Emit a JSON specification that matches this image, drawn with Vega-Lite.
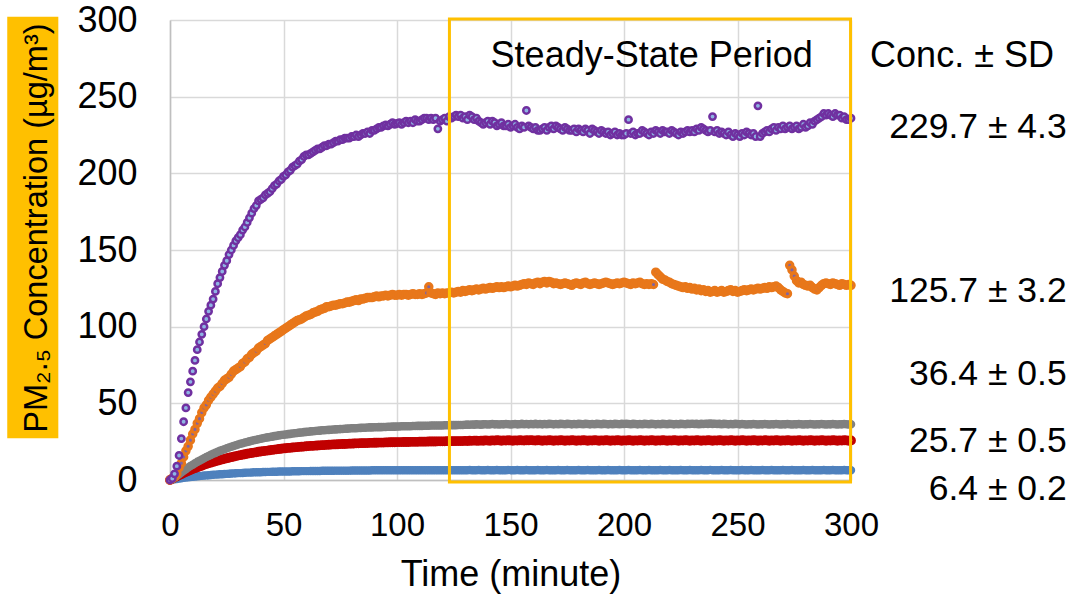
{
"$schema": "https://vega.github.io/schema/vega-lite/v6.json",
"autosize": {"type": "none"},
"width": 681, "height": 460,
"padding": {"left": 170, "top": 20, "right": 223, "bottom": 120},
"background": "white",
"config": {
  "font": "Liberation Sans",
  "view": {"stroke": null},
  "axis": {"grid": true, "gridColor": "#D9D9D9", "gridWidth": 1.5, "domainColor": "#BFBFBF", "domainWidth": 1.5, "ticks": false, "tickSize": 0, "labelColor": "black", "titleColor": "black", "labelFont": "Liberation Sans", "titleFont": "Liberation Sans", "titleFontWeight": "normal", "labelFlush": false},
  "axisX": {"labelFontSize": 33, "labelPadding": 29, "titleFontSize": 36, "titlePadding": 15},
  "axisY": {"labelFontSize": 36, "labelPadding": 33}
},
"datasets": {
"d": [
{"t":0,"p":0,"o":0,"g":0,"r":0,"b":0},
{"t":1,"p":1,"o":1,"g":0.5,"r":0.8,"b":0.3},
{"t":2,"p":4,"o":2,"g":1.5,"r":1.6,"b":0.5},
{"t":3,"p":9,"o":4,"g":2.6,"r":2.4,"b":0.7},
{"t":4,"p":16,"o":8,"g":3.8,"r":3.1,"b":1.0},
{"t":5,"p":27,"o":11,"g":4.9,"r":3.8,"b":1.2},
{"t":6,"p":38,"o":15,"g":6.0,"r":4.5,"b":1.4},
{"t":7,"p":47,"o":19,"g":7.1,"r":5.2,"b":1.6},
{"t":8,"p":57,"o":22,"g":8.1,"r":5.8,"b":1.8},
{"t":9,"p":64,"o":26,"g":9.1,"r":6.5,"b":2.0},
{"t":10,"p":71,"o":30,"g":10.0,"r":7.1,"b":2.1},
{"t":11,"p":78,"o":33,"g":10.9,"r":7.7,"b":2.3},
{"t":12,"p":85,"o":37,"g":11.8,"r":8.3,"b":2.5},
{"t":13,"p":90,"o":40,"g":12.6,"r":8.8,"b":2.6},
{"t":14,"p":95,"o":44,"g":13.4,"r":9.3,"b":2.7},
{"t":15,"p":100,"o":47,"g":14.2,"r":9.9,"b":2.9},
{"t":16,"p":105,"o":49,"g":15.0,"r":10.4,"b":3.0},
{"t":17,"p":110,"o":52,"g":15.7,"r":10.9,"b":3.1},
{"t":18,"p":114,"o":54,"g":16.4,"r":11.3,"b":3.3},
{"t":19,"p":118,"o":56,"g":17.1,"r":11.8,"b":3.4},
{"t":20,"p":123,"o":58,"g":17.7,"r":12.2,"b":3.5},
{"t":21,"p":128,"o":60,"g":18.4,"r":12.6,"b":3.6},
{"t":22,"p":132,"o":61,"g":19.0,"r":13.0,"b":3.7},
{"t":23,"p":136,"o":63,"g":19.6,"r":13.4,"b":3.8},
{"t":24,"p":140,"o":65,"g":20.1,"r":13.8,"b":3.9},
{"t":25,"p":143,"o":66,"g":20.7,"r":14.2,"b":4.0},
{"t":26,"p":147,"o":67,"g":21.2,"r":14.5,"b":4.1},
{"t":27,"p":150,"o":69,"g":21.7,"r":14.9,"b":4.2},
{"t":28,"p":153,"o":71,"g":22.2,"r":15.2,"b":4.3},
{"t":29,"p":156,"o":72,"g":22.7,"r":15.6,"b":4.4},
{"t":30,"p":158,"o":73,"g":23.1,"r":15.9,"b":4.5},
{"t":31,"p":160,"o":74,"g":23.6,"r":16.2,"b":4.5},
{"t":32,"p":163,"o":76,"g":24.0,"r":16.5,"b":4.6},
{"t":33,"p":165,"o":77,"g":24.4,"r":16.8,"b":4.7},
{"t":34,"p":168,"o":79,"g":24.8,"r":17.1,"b":4.8},
{"t":35,"p":171,"o":80,"g":25.2,"r":17.4,"b":4.8},
{"t":36,"p":174,"o":82,"g":25.6,"r":17.6,"b":4.9},
{"t":37,"p":177,"o":83,"g":25.9,"r":17.9,"b":5.0},
{"t":38,"p":179,"o":84,"g":26.3,"r":18.1,"b":5.0},
{"t":39,"p":182,"o":86,"g":26.6,"r":18.4,"b":5.1},
{"t":40,"p":183,"o":87,"g":26.9,"r":18.6,"b":5.1},
{"t":41,"p":184,"o":88,"g":27.2,"r":18.8,"b":5.2},
{"t":42,"p":186,"o":89,"g":27.5,"r":19.0,"b":5.2},
{"t":43,"p":187,"o":91,"g":27.8,"r":19.2,"b":5.3},
{"t":44,"p":188,"o":92,"g":28.1,"r":19.4,"b":5.3},
{"t":45,"p":190,"o":93,"g":28.3,"r":19.6,"b":5.4},
{"t":46,"p":192,"o":94,"g":28.6,"r":19.8,"b":5.4},
{"t":47,"p":193,"o":95,"g":28.8,"r":20.0,"b":5.4},
{"t":48,"p":195,"o":96,"g":29.1,"r":20.2,"b":5.5},
{"t":49,"p":196,"o":97,"g":29.3,"r":20.4,"b":5.5},
{"t":50,"p":198,"o":98,"g":29.5,"r":20.6,"b":5.5},
{"t":51,"p":199,"o":99,"g":29.7,"r":20.7,"b":5.6},
{"t":52,"p":201,"o":100,"g":29.9,"r":20.9,"b":5.6},
{"t":53,"p":202,"o":101,"g":30.1,"r":21.0,"b":5.6},
{"t":54,"p":204,"o":102,"g":30.3,"r":21.2,"b":5.7},
{"t":55,"p":205,"o":103,"g":30.5,"r":21.3,"b":5.7},
{"t":56,"p":206,"o":104,"g":30.7,"r":21.4,"b":5.7},
{"t":57,"p":208,"o":104.5,"g":30.9,"r":21.6,"b":5.7},
{"t":58,"p":209,"o":105,"g":31.0,"r":21.7,"b":5.8},
{"t":59,"p":211,"o":106,"g":31.2,"r":21.8,"b":5.8},
{"t":60,"p":212,"o":107,"g":31.4,"r":22.0,"b":5.8},
{"t":61,"p":212,"o":107.5,"g":31.5,"r":22.1,"b":5.8},
{"t":62,"p":213,"o":108,"g":31.7,"r":22.2,"b":5.9},
{"t":63,"p":214,"o":109,"g":31.8,"r":22.3,"b":5.9},
{"t":64,"p":215,"o":109.5,"g":32.0,"r":22.4,"b":5.9},
{"t":65,"p":216,"o":110,"g":32.1,"r":22.5,"b":5.9},
{"t":66,"p":216,"o":111,"g":32.2,"r":22.6,"b":5.9},
{"t":67,"p":217,"o":111.5,"g":32.4,"r":22.7,"b":6.0},
{"t":68,"p":218,"o":112,"g":32.5,"r":22.8,"b":6.0},
{"t":69,"p":218,"o":113,"g":32.6,"r":22.9,"b":6.0},
{"t":70,"p":219,"o":113,"g":32.7,"r":23.0,"b":6.0},
{"t":71,"p":219,"o":113.5,"g":32.8,"r":23.1,"b":6.0},
{"t":72,"p":220,"o":114,"g":32.9,"r":23.2,"b":6.0},
{"t":73,"p":221,"o":114,"g":33.0,"r":23.2,"b":6.1},
{"t":74,"p":221,"o":114.5,"g":33.1,"r":23.3,"b":6.1},
{"t":75,"p":222,"o":115,"g":33.2,"r":23.4,"b":6.1},
{"t":76,"p":222,"o":115,"g":33.3,"r":23.5,"b":6.1},
{"t":77,"p":223,"o":115.5,"g":33.4,"r":23.5,"b":6.1},
{"t":78,"p":223,"o":116,"g":33.5,"r":23.6,"b":6.1},
{"t":79,"p":223,"o":116,"g":33.6,"r":23.7,"b":6.1},
{"t":80,"p":224,"o":116.5,"g":33.7,"r":23.7,"b":6.2},
{"t":81,"p":224,"o":117,"g":33.8,"r":23.8,"b":6.2},
{"t":82,"p":225,"o":117.5,"g":33.8,"r":23.9,"b":6.2},
{"t":83,"p":224,"o":117,"g":33.9,"r":23.9,"b":6.2},
{"t":84,"p":225,"o":118,"g":34.0,"r":24.0,"b":6.2},
{"t":85,"p":226,"o":118,"g":34.1,"r":24.0,"b":6.2},
{"t":86,"p":226,"o":118.5,"g":34.1,"r":24.1,"b":6.2},
{"t":87,"p":227,"o":119,"g":34.2,"r":24.1,"b":6.2},
{"t":88,"p":226,"o":119,"g":34.3,"r":24.2,"b":6.2},
{"t":89,"p":228,"o":119,"g":34.3,"r":24.2,"b":6.3},
{"t":90,"p":228,"o":119.5,"g":34.4,"r":24.3,"b":6.3},
{"t":91,"p":229,"o":120,"g":34.4,"r":24.3,"b":6.3},
{"t":92,"p":230,"o":119.5,"g":34.5,"r":24.4,"b":6.3},
{"t":93,"p":230,"o":120,"g":34.5,"r":24.4,"b":6.3},
{"t":94,"p":231,"o":120,"g":34.6,"r":24.4,"b":6.3},
{"t":95,"p":231.5,"o":120.5,"g":34.6,"r":24.5,"b":6.3},
{"t":96,"p":231,"o":120,"g":34.7,"r":24.5,"b":6.3},
{"t":97,"p":232,"o":120.5,"g":34.7,"r":24.6,"b":6.3},
{"t":98,"p":233,"o":121,"g":34.8,"r":24.6,"b":6.3},
{"t":99,"p":232,"o":120.5,"g":34.8,"r":24.6,"b":6.3},
{"t":100,"p":232.5,"o":120.5,"g":34.9,"r":24.7,"b":6.3},
{"t":101,"p":233,"o":121,"g":34.9,"r":24.7,"b":6.3},
{"t":102,"p":232,"o":120.5,"g":35.0,"r":24.7,"b":6.3},
{"t":103,"p":233,"o":121,"g":35.0,"r":24.8,"b":6.3},
{"t":104,"p":234,"o":121,"g":35.1,"r":24.8,"b":6.4},
{"t":105,"p":233,"o":120.5,"g":35.1,"r":24.8,"b":6.4},
{"t":106,"p":234,"o":121,"g":35.1,"r":24.9,"b":6.4},
{"t":107,"p":233,"o":121.5,"g":35.2,"r":24.9,"b":6.4},
{"t":108,"p":235,"o":121,"g":35.2,"r":24.9,"b":6.4},
{"t":109,"p":234,"o":121,"g":35.3,"r":24.9,"b":6.4},
{"t":110,"p":234,"o":121.5,"g":35.3,"r":25.0,"b":6.4},
{"t":111,"p":235,"o":121,"g":35.3,"r":25.0,"b":6.4},
{"t":112,"p":236,"o":121.5,"g":35.4,"r":25.0,"b":6.4},
{"t":113,"p":236,"o":122,"g":35.4,"r":25.0,"b":6.4},
{"t":114,"p":235,"o":126,"g":35.4,"r":25.1,"b":6.4},
{"t":115,"p":236,"o":122,"g":35.5,"r":25.1,"b":6.4},
{"t":116,"p":235,"o":121.5,"g":35.5,"r":25.1,"b":6.4},
{"t":117,"p":236,"o":121,"g":35.5,"r":25.1,"b":6.4},
{"t":118,"p":229,"o":122,"g":35.6,"r":25.2,"b":6.4},
{"t":119,"p":234,"o":121.5,"g":35.6,"r":25.2,"b":6.4},
{"t":120,"p":235,"o":122,"g":35.6,"r":25.2,"b":6.4},
{"t":121,"p":236,"o":121.5,"g":35.7,"r":25.2,"b":6.4},
{"t":122,"p":234,"o":122,"g":35.7,"r":25.3,"b":6.4},
{"t":123,"p":237,"o":122,"g":35.7,"r":25.3,"b":6.4},
{"t":124,"p":236,"o":122.5,"g":35.8,"r":25.3,"b":6.4},
{"t":125,"p":237,"o":122,"g":35.8,"r":25.3,"b":6.4},
{"t":126,"p":238,"o":122.5,"g":35.8,"r":25.4,"b":6.4},
{"t":127,"p":237,"o":123,"g":35.9,"r":25.4,"b":6.4},
{"t":128,"p":238,"o":122.5,"g":35.9,"r":25.4,"b":6.4},
{"t":129,"p":236,"o":123.5,"g":35.9,"r":25.4,"b":6.4},
{"t":130,"p":237,"o":123,"g":36.0,"r":25.5,"b":6.3},
{"t":131,"p":235,"o":123.5,"g":36.1,"r":25.4,"b":6.4},
{"t":132,"p":238,"o":124,"g":36.0,"r":25.6,"b":6.5},
{"t":133,"p":237,"o":123.5,"g":36.2,"r":25.5,"b":6.4},
{"t":134,"p":235,"o":124,"g":36.1,"r":25.7,"b":6.3},
{"t":135,"p":236,"o":124.5,"g":36.3,"r":25.6,"b":6.4},
{"t":136,"p":234,"o":124,"g":36.2,"r":25.5,"b":6.5},
{"t":137,"p":233,"o":124.5,"g":36.1,"r":25.7,"b":6.4},
{"t":138,"p":232,"o":125,"g":36.3,"r":25.6,"b":6.3},
{"t":139,"p":233,"o":124.5,"g":36.4,"r":25.8,"b":6.4},
{"t":140,"p":234,"o":125,"g":36.2,"r":25.7,"b":6.5},
{"t":141,"p":232,"o":125.5,"g":36.3,"r":25.6,"b":6.4},
{"t":142,"p":234,"o":125,"g":36.5,"r":25.8,"b":6.3},
{"t":143,"p":233,"o":125.5,"g":36.3,"r":25.7,"b":6.4},
{"t":144,"p":231,"o":126,"g":36.4,"r":25.9,"b":6.5},
{"t":145,"p":232,"o":125.5,"g":36.2,"r":25.8,"b":6.4},
{"t":146,"p":233,"o":126,"g":36.4,"r":25.6,"b":6.3},
{"t":147,"p":231,"o":125.5,"g":36.3,"r":25.8,"b":6.4},
{"t":148,"p":231,"o":126,"g":36.5,"r":25.7,"b":6.4},
{"t":149,"p":232,"o":126.5,"g":36.4,"r":25.9,"b":6.5},
{"t":150,"p":230,"o":126,"g":36.2,"r":25.8,"b":6.4},
{"t":151,"p":231,"o":126.5,"g":36.4,"r":25.6,"b":6.3},
{"t":152,"p":232,"o":127,"g":36.5,"r":25.8,"b":6.4},
{"t":153,"p":230,"o":126.5,"g":36.3,"r":25.7,"b":6.5},
{"t":154,"p":229,"o":127,"g":36.4,"r":25.9,"b":6.4},
{"t":155,"p":231,"o":127.5,"g":36.6,"r":25.8,"b":6.3},
{"t":156,"p":230,"o":128,"g":36.4,"r":25.7,"b":6.4},
{"t":157,"p":241,"o":127.5,"g":36.5,"r":25.9,"b":6.5},
{"t":158,"p":231,"o":128.5,"g":36.3,"r":25.8,"b":6.4},
{"t":159,"p":230,"o":128,"g":36.5,"r":26.0,"b":6.4},
{"t":160,"p":229,"o":127.5,"g":36.4,"r":25.8,"b":6.3},
{"t":161,"p":230,"o":128.5,"g":36.6,"r":25.7,"b":6.4},
{"t":162,"p":228,"o":129,"g":36.4,"r":25.9,"b":6.5},
{"t":163,"p":228,"o":128,"g":36.5,"r":25.8,"b":6.4},
{"t":164,"p":229,"o":129,"g":36.3,"r":25.6,"b":6.3},
{"t":165,"p":230,"o":129.5,"g":36.5,"r":25.8,"b":6.4},
{"t":166,"p":228,"o":128.5,"g":36.4,"r":25.7,"b":6.5},
{"t":167,"p":230,"o":129.5,"g":36.6,"r":25.9,"b":6.4},
{"t":168,"p":231,"o":129,"g":36.5,"r":25.8,"b":6.4},
{"t":169,"p":229,"o":128,"g":36.3,"r":25.6,"b":6.3},
{"t":170,"p":231,"o":128.5,"g":36.5,"r":25.8,"b":6.4},
{"t":171,"p":230,"o":128,"g":36.4,"r":25.7,"b":6.5},
{"t":172,"p":229,"o":127.5,"g":36.6,"r":25.9,"b":6.4},
{"t":173,"p":228,"o":128,"g":36.5,"r":25.8,"b":6.3},
{"t":174,"p":230,"o":128.5,"g":36.4,"r":25.6,"b":6.4},
{"t":175,"p":229,"o":128,"g":36.6,"r":25.8,"b":6.5},
{"t":176,"p":228,"o":127.5,"g":36.5,"r":25.7,"b":6.4},
{"t":177,"p":228,"o":127,"g":36.3,"r":25.9,"b":6.4},
{"t":178,"p":229,"o":128,"g":36.5,"r":25.8,"b":6.3},
{"t":179,"p":227,"o":128.5,"g":36.4,"r":25.6,"b":6.4},
{"t":180,"p":229,"o":128,"g":36.6,"r":25.8,"b":6.5},
{"t":181,"p":228,"o":127.5,"g":36.5,"r":25.7,"b":6.4},
{"t":182,"p":227,"o":128.5,"g":36.4,"r":25.9,"b":6.3},
{"t":183,"p":229,"o":129,"g":36.6,"r":25.8,"b":6.4},
{"t":184,"p":228,"o":128,"g":36.5,"r":25.6,"b":6.5},
{"t":185,"p":226,"o":127.5,"g":36.3,"r":25.8,"b":6.4},
{"t":186,"p":229,"o":128,"g":36.5,"r":25.7,"b":6.4},
{"t":187,"p":228,"o":128.5,"g":36.4,"r":25.9,"b":6.3},
{"t":188,"p":227,"o":128,"g":36.6,"r":25.8,"b":6.4},
{"t":189,"p":226,"o":127.5,"g":36.5,"r":25.6,"b":6.5},
{"t":190,"p":228,"o":128,"g":36.4,"r":25.8,"b":6.4},
{"t":191,"p":227,"o":128.5,"g":36.6,"r":25.7,"b":6.3},
{"t":192,"p":226,"o":129,"g":36.5,"r":25.9,"b":6.4},
{"t":193,"p":227,"o":128.5,"g":36.3,"r":25.8,"b":6.5},
{"t":194,"p":225,"o":128,"g":36.5,"r":25.6,"b":6.4},
{"t":195,"p":226,"o":127.5,"g":36.4,"r":25.8,"b":6.4},
{"t":196,"p":227,"o":128,"g":36.6,"r":25.7,"b":6.3},
{"t":197,"p":225,"o":128.5,"g":36.5,"r":25.9,"b":6.4},
{"t":198,"p":226,"o":128,"g":36.4,"r":25.8,"b":6.5},
{"t":199,"p":225,"o":128.5,"g":36.6,"r":25.6,"b":6.4},
{"t":200,"p":225,"o":129,"g":36.5,"r":25.8,"b":6.3},
{"t":201,"p":226,"o":128.5,"g":36.7,"r":25.7,"b":6.4},
{"t":202,"p":235,"o":128,"g":36.5,"r":25.9,"b":6.5},
{"t":203,"p":226,"o":127.5,"g":36.4,"r":25.8,"b":6.4},
{"t":204,"p":227,"o":128.5,"g":36.6,"r":25.6,"b":6.4},
{"t":205,"p":225,"o":128,"g":36.5,"r":25.8,"b":6.3},
{"t":206,"p":226,"o":128.5,"g":36.3,"r":25.7,"b":6.4},
{"t":207,"p":226,"o":129,"g":36.5,"r":25.9,"b":6.5},
{"t":208,"p":228,"o":128,"g":36.4,"r":25.8,"b":6.4},
{"t":209,"p":227,"o":127.5,"g":36.6,"r":25.6,"b":6.3},
{"t":210,"p":226,"o":128,"g":36.5,"r":25.8,"b":6.4},
{"t":211,"p":225,"o":127.5,"g":36.4,"r":25.7,"b":6.5},
{"t":212,"p":227,"o":128,"g":36.6,"r":25.9,"b":6.4},
{"t":213,"p":226,"o":127.5,"g":36.5,"r":25.8,"b":6.4},
{"t":214,"p":228,"o":135.5,"g":36.3,"r":25.6,"b":6.3},
{"t":215,"p":227,"o":134,"g":36.5,"r":25.8,"b":6.4},
{"t":216,"p":226,"o":132.5,"g":36.4,"r":25.7,"b":6.5},
{"t":217,"p":228,"o":131,"g":36.6,"r":25.9,"b":6.4},
{"t":218,"p":227,"o":130.5,"g":36.5,"r":25.8,"b":6.3},
{"t":219,"p":227,"o":129.5,"g":36.4,"r":25.6,"b":6.4},
{"t":220,"p":226,"o":129,"g":36.6,"r":25.8,"b":6.5},
{"t":221,"p":228,"o":128,"g":36.5,"r":25.7,"b":6.4},
{"t":222,"p":227,"o":127.5,"g":36.3,"r":25.9,"b":6.4},
{"t":223,"p":226,"o":127,"g":36.5,"r":25.8,"b":6.3},
{"t":224,"p":225,"o":126.5,"g":36.4,"r":25.6,"b":6.4},
{"t":225,"p":227,"o":126,"g":36.6,"r":25.8,"b":6.5},
{"t":226,"p":226,"o":125.5,"g":36.5,"r":25.7,"b":6.4},
{"t":227,"p":227,"o":126,"g":36.4,"r":25.9,"b":6.3},
{"t":228,"p":228,"o":125,"g":36.6,"r":25.8,"b":6.4},
{"t":229,"p":227,"o":125.5,"g":36.5,"r":25.6,"b":6.5},
{"t":230,"p":228,"o":124.5,"g":36.7,"r":25.8,"b":6.4},
{"t":231,"p":227,"o":125,"g":36.5,"r":25.7,"b":6.4},
{"t":232,"p":229,"o":124,"g":36.6,"r":25.9,"b":6.3},
{"t":233,"p":228,"o":124.5,"g":36.4,"r":25.8,"b":6.4},
{"t":234,"p":230,"o":123.5,"g":36.6,"r":25.6,"b":6.5},
{"t":235,"p":229,"o":124,"g":36.5,"r":25.8,"b":6.4},
{"t":236,"p":228,"o":123,"g":36.7,"r":25.7,"b":6.3},
{"t":237,"p":227,"o":123.5,"g":36.6,"r":25.9,"b":6.4},
{"t":238,"p":228,"o":122.5,"g":36.8,"r":25.8,"b":6.6},
{"t":239,"p":237,"o":123,"g":36.6,"r":25.6,"b":6.4},
{"t":240,"p":227,"o":123.5,"g":36.7,"r":25.8,"b":6.4},
{"t":241,"p":228,"o":122.5,"g":36.5,"r":25.7,"b":6.3},
{"t":242,"p":226,"o":123,"g":36.6,"r":25.9,"b":6.4},
{"t":243,"p":227,"o":123.5,"g":36.4,"r":25.8,"b":6.5},
{"t":244,"p":226,"o":122.5,"g":36.6,"r":25.6,"b":6.4},
{"t":245,"p":225,"o":123,"g":36.5,"r":25.8,"b":6.3},
{"t":246,"p":227,"o":123.5,"g":36.3,"r":25.7,"b":6.4},
{"t":247,"p":225,"o":124,"g":36.5,"r":25.9,"b":6.5},
{"t":248,"p":224,"o":123,"g":36.4,"r":25.8,"b":6.4},
{"t":249,"p":226,"o":123.5,"g":36.6,"r":25.6,"b":6.4},
{"t":250,"p":225,"o":122.5,"g":36.5,"r":25.8,"b":6.3},
{"t":251,"p":224,"o":123,"g":36.3,"r":25.7,"b":6.4},
{"t":252,"p":226,"o":123.5,"g":36.5,"r":25.9,"b":6.5},
{"t":253,"p":225,"o":124,"g":36.4,"r":25.8,"b":6.4},
{"t":254,"p":227,"o":123.5,"g":36.2,"r":25.6,"b":6.3},
{"t":255,"p":226,"o":124,"g":36.4,"r":25.8,"b":6.4},
{"t":256,"p":225,"o":124.5,"g":36.3,"r":25.7,"b":6.5},
{"t":257,"p":226,"o":124,"g":36.5,"r":25.9,"b":6.4},
{"t":258,"p":224,"o":124.5,"g":36.4,"r":25.8,"b":6.4},
{"t":259,"p":244,"o":125,"g":36.2,"r":25.6,"b":6.3},
{"t":260,"p":224,"o":124.5,"g":36.4,"r":25.8,"b":6.4},
{"t":261,"p":226,"o":125,"g":36.3,"r":25.7,"b":6.5},
{"t":262,"p":227,"o":125.5,"g":36.5,"r":25.9,"b":6.4},
{"t":263,"p":228,"o":125,"g":36.4,"r":25.8,"b":6.3},
{"t":264,"p":227,"o":126,"g":36.2,"r":25.6,"b":6.4},
{"t":265,"p":229,"o":125.5,"g":36.4,"r":25.8,"b":6.5},
{"t":266,"p":230,"o":126,"g":36.3,"r":25.7,"b":6.4},
{"t":267,"p":228,"o":126.5,"g":36.5,"r":25.9,"b":6.4},
{"t":268,"p":230,"o":125.5,"g":36.4,"r":25.8,"b":6.3},
{"t":269,"p":229,"o":124,"g":36.2,"r":25.6,"b":6.4},
{"t":270,"p":231,"o":123,"g":36.4,"r":25.8,"b":6.5},
{"t":271,"p":229,"o":122,"g":36.3,"r":25.7,"b":6.4},
{"t":272,"p":230,"o":121.5,"g":36.5,"r":25.9,"b":6.3},
{"t":273,"p":231,"o":140,"g":36.4,"r":25.8,"b":6.4},
{"t":274,"p":229,"o":137,"g":36.2,"r":25.6,"b":6.5},
{"t":275,"p":230,"o":133,"g":36.4,"r":25.8,"b":6.4},
{"t":276,"p":231,"o":130,"g":36.3,"r":25.7,"b":6.4},
{"t":277,"p":229,"o":128.5,"g":36.5,"r":25.9,"b":6.3},
{"t":278,"p":230,"o":129,"g":36.4,"r":25.8,"b":6.4},
{"t":279,"p":232,"o":127.5,"g":36.2,"r":25.6,"b":6.5},
{"t":280,"p":230,"o":127,"g":36.4,"r":25.8,"b":6.4},
{"t":281,"p":231,"o":126.5,"g":36.3,"r":25.7,"b":6.3},
{"t":282,"p":233,"o":127,"g":36.5,"r":25.9,"b":6.4},
{"t":283,"p":232,"o":125.5,"g":36.4,"r":25.8,"b":6.5},
{"t":284,"p":234,"o":124.5,"g":36.2,"r":25.6,"b":6.4},
{"t":285,"p":235,"o":124,"g":36.4,"r":25.8,"b":6.4},
{"t":286,"p":236,"o":125.5,"g":36.3,"r":25.7,"b":6.3},
{"t":287,"p":237,"o":127,"g":36.5,"r":25.9,"b":6.4},
{"t":288,"p":239,"o":128,"g":36.4,"r":25.8,"b":6.5},
{"t":289,"p":238,"o":128.5,"g":36.2,"r":25.6,"b":6.4},
{"t":290,"p":239,"o":128,"g":36.4,"r":25.8,"b":6.3},
{"t":291,"p":238,"o":127.5,"g":36.3,"r":25.7,"b":6.4},
{"t":292,"p":237,"o":128.5,"g":36.5,"r":25.9,"b":6.5},
{"t":293,"p":239,"o":128,"g":36.4,"r":25.8,"b":6.4},
{"t":294,"p":238,"o":127.5,"g":36.2,"r":25.6,"b":6.4},
{"t":295,"p":238,"o":127,"g":36.4,"r":25.8,"b":6.3},
{"t":296,"p":236,"o":128,"g":36.3,"r":25.7,"b":6.4},
{"t":297,"p":237,"o":127.5,"g":36.5,"r":25.9,"b":6.5},
{"t":298,"p":235,"o":127,"g":36.4,"r":25.8,"b":6.4},
{"t":299,"p":235,"o":127.5,"g":36.2,"r":25.6,"b":6.3},
{"t":300,"p":236,"o":127,"g":36.4,"r":25.8,"b":6.4}
],
"labels": [
{"label":"229.7 ± 4.3","y":222.9},
{"label":"125.7 ± 3.2","y":116.3},
{"label":"36.4 ± 0.5","y":62.0},
{"label":"25.7 ± 0.5","y":18.5},
{"label":"6.4 ± 0.2","y":-13.0}
],
"one": [{"n": 1}]
},
"data": {"name": "d"},
"layer": [
{
  "mark": {"type": "point", "filled": true, "fill": "#4F81BD", "stroke": "#4F81BD", "strokeWidth": 1.5, "size": 48, "opacity": 1},
  "encoding": {
    "x": {"field": "t", "type": "quantitative", "scale": {"domain": [0, 300]}, "axis": {"title": "Time (minute)", "values": [0, 50, 100, 150, 200, 250, 300]}},
    "y": {"field": "b", "type": "quantitative", "scale": {"domain": [0, 300]}, "axis": {"title": null, "values": [0, 50, 100, 150, 200, 250, 300]}}
  }
},
{
  "mark": {"type": "point", "filled": true, "fill": "#F6A04D", "stroke": "#C00000", "strokeWidth": 3.5, "size": 40, "opacity": 1},
  "encoding": {
    "x": {"field": "t", "type": "quantitative", "scale": {"domain": [0, 300]}},
    "y": {"field": "r", "type": "quantitative", "scale": {"domain": [0, 300]}}
  }
},
{
  "mark": {"type": "point", "filled": true, "fill": "#808080", "stroke": "#808080", "strokeWidth": 1.5, "size": 50, "opacity": 1},
  "encoding": {
    "x": {"field": "t", "type": "quantitative", "scale": {"domain": [0, 300]}},
    "y": {"field": "g", "type": "quantitative", "scale": {"domain": [0, 300]}}
  }
},
{
  "mark": {"type": "point", "filled": true, "fill": "#8064A2", "stroke": "#E8771A", "strokeWidth": 3.2, "size": 40, "opacity": 1},
  "encoding": {
    "x": {"field": "t", "type": "quantitative", "scale": {"domain": [0, 300]}},
    "y": {"field": "o", "type": "quantitative", "scale": {"domain": [0, 300]}}
  }
},
{
  "mark": {"type": "point", "filled": true, "fill": "#8EB4E3", "stroke": "#7030A0", "strokeWidth": 2.5, "size": 40, "opacity": 1},
  "encoding": {
    "x": {"field": "t", "type": "quantitative", "scale": {"domain": [0, 300]}},
    "y": {"field": "p", "type": "quantitative", "scale": {"domain": [0, 300]}}
  }
},
{
  "data": {"name": "one"},
  "mark": {"type": "rect", "fill": null, "fillOpacity": 0, "stroke": "#FFC000", "strokeWidth": 3},
  "encoding": {
    "x": {"datum": 123.1, "type": "quantitative", "scale": {"domain": [0, 300]}},
    "x2": {"datum": 299.8},
    "y": {"datum": 300.7, "type": "quantitative", "scale": {"domain": [0, 300]}},
    "y2": {"datum": -1.3}
  }
},
{
  "data": {"name": "one"},
  "mark": {"type": "rect", "fill": "#FFC000"},
  "encoding": {
    "x": {"datum": -71.7, "type": "quantitative", "scale": {"domain": [0, 300]}},
    "x2": {"datum": -49.2},
    "y": {"datum": 302.2, "type": "quantitative", "scale": {"domain": [0, 300]}},
    "y2": {"datum": 27.2}
  }
},
{
  "data": {"name": "one"},
  "mark": {"type": "text", "text": "PM₂.₅ Concentration (µg/m³)", "angle": 270, "align": "center", "baseline": "alphabetic", "fontSize": 32.5, "font": "Liberation Sans", "fill": "black"},
  "encoding": {
    "x": {"datum": -54.2, "type": "quantitative", "scale": {"domain": [0, 300]}},
    "y": {"datum": 164.3, "type": "quantitative", "scale": {"domain": [0, 300]}}
  }
},
{
  "data": {"name": "one"},
  "mark": {"type": "text", "text": "Steady-State Period", "align": "center", "baseline": "alphabetic", "fontSize": 36, "font": "Liberation Sans", "fill": "black"},
  "encoding": {
    "x": {"datum": 212.2, "type": "quantitative", "scale": {"domain": [0, 300]}},
    "y": {"datum": 269.5, "type": "quantitative", "scale": {"domain": [0, 300]}}
  }
},
{
  "data": {"name": "one"},
  "mark": {"type": "text", "text": "Conc. ± SD", "align": "center", "baseline": "alphabetic", "fontSize": 36, "font": "Liberation Sans", "fill": "black"},
  "encoding": {
    "x": {"datum": 348.9, "type": "quantitative", "scale": {"domain": [0, 300]}},
    "y": {"datum": 269.5, "type": "quantitative", "scale": {"domain": [0, 300]}}
  }
},
{
  "data": {"name": "labels"},
  "mark": {"type": "text", "align": "right", "baseline": "alphabetic", "fontSize": 35.5, "font": "Liberation Sans", "fill": "black"},
  "encoding": {
    "x": {"datum": 395, "type": "quantitative", "scale": {"domain": [0, 300]}},
    "y": {"field": "y", "type": "quantitative", "scale": {"domain": [0, 300]}},
    "text": {"field": "label", "type": "nominal"}
  }
}
]
}
